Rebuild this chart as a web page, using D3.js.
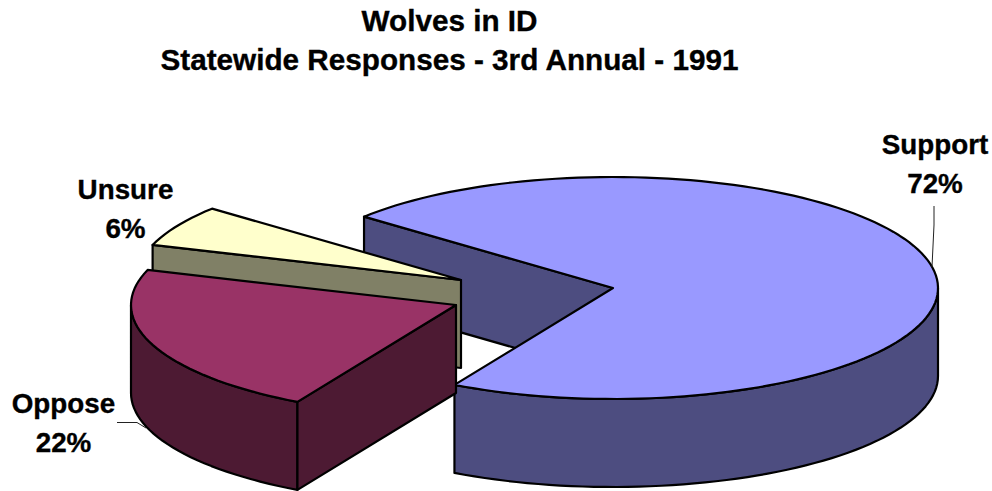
<!DOCTYPE html>
<html lang="en">

<head>
  <meta charset="utf-8">
  <title>Wolves in ID</title>
  <script type="text/javascript" src="https://cdn.jsdelivr.net/npm/d3@7"></script>
  <style type="text/css">
    body {
      margin: 0;
      background: white;
    }

    svg {
      display: block;
    }

    text {
      font-family: "Liberation Sans", Arial, sans-serif;
      font-weight: bold;
      fill: black;
      stroke: black;
      stroke-width: 0.35px;
      text-anchor: middle;
    }

    .face {
      stroke: black;
      stroke-width: 2.2px;
      stroke-linejoin: round;
    }

    .leader {
      fill: none;
      stroke: #222;
      stroke-width: 1px;
    }
  </style>
</head>

<body>
  <script type="text/javascript">
    const titleLines = ["Wolves in ID", "Statewide Responses - 3rd Annual - 1991"];
    const categories = ["Support", "Oppose", "Unsure"];
    const values = [72, 22, 6];

    const w = 992;
    const h = 491;
    const rad = Math.PI / 180;

    // Pie look: ellipse radii, thickness, and where each pulled-out slice ends up
    const rx = 325;
    const ry = 111;
    const depth = 88;
    const centers = { Support: [613, 288], Oppose: [456, 305], Unsure: [461, 280] };
    const topColor = { Support: "#9999ff", Oppose: "#993366", Unsure: "#ffffcc" };
    const sideColor = { Support: "#4d4d80", Oppose: "#4d1a33", Unsure: "#808066" };
    const labelPos = {
      Support: [935, 154],
      Oppose: [63.5, 413],
      Unsure: [125.5, 199]
    };

    const xScale = d3.scaleLinear().domain([-1, 1]).range([-rx, rx]);
    const yScale = d3.scaleLinear().domain([-1, 1]).range([-ry, ry]);

    const pie = d3.pie()
      .sort(null)
      .startAngle(-50 * rad)
      .endAngle(310 * rad);

    const slices = pie(values).map(function (d, i) {
      return { name: categories[i], start: d.startAngle, end: d.endAngle, value: d.value };
    });

    const line = d3.line();

    // point on the rim of a slice, angle clockwise from 12 o'clock
    function rim(name, a, drop) {
      const c = centers[name];
      return [c[0] + xScale(Math.sin(a)), c[1] - yScale(Math.cos(a)) + (drop || 0)];
    }

    function arcPoints(name, a0, a1, drop) {
      const n = Math.max(2, Math.ceil(Math.abs(a1 - a0) / (2 * rad)));
      return d3.range(n + 1).map(function (i) {
        return rim(name, a0 + (a1 - a0) * i / n, drop);
      });
    }

    function topFace(s) {
      return [centers[s.name]].concat(arcPoints(s.name, s.start, s.end));
    }

    // the curved outside wall between two angles
    function outerWall(s, a0, a1) {
      return arcPoints(s.name, a0, a1).concat(arcPoints(s.name, a1, a0, depth));
    }

    // the flat cut wall from the centre out to the rim at angle a
    function cutWall(s, a) {
      const c = centers[s.name];
      const p = rim(s.name, a);
      return [c, p, [p[0], p[1] + depth], [c[0], c[1] + depth]];
    }

    const svg = d3.select("body")
      .append("svg")
      .attr("width", w)
      .attr("height", h);

    function drawFace(points, color) {
      svg.append("path")
        .attr("class", "face")
        .attr("d", line(points) + "Z")
        .attr("fill", color);
    }

    const support = slices[0];
    const oppose = slices[1];
    const unsure = slices[2];

    // Back to front so the nearer faces cover the hidden ones
    drawFace(cutWall(support, support.start), sideColor.Support);
    drawFace(outerWall(support, 90 * rad, support.end), sideColor.Support);
    drawFace(topFace(support), topColor.Support);

    drawFace(cutWall(unsure, unsure.start), sideColor.Unsure);
    drawFace(topFace(unsure), topColor.Unsure);

    drawFace(outerWall(oppose, oppose.start, 270 * rad), sideColor.Oppose);
    drawFace(cutWall(oppose, oppose.start), sideColor.Oppose);
    drawFace(topFace(oppose), topColor.Oppose);

    // Leader lines
    svg.append("path")
      .attr("class", "leader")
      .attr("d", line([[934, 206], [934, 225], [932, 267]]));
    svg.append("path")
      .attr("class", "leader")
      .attr("d", line([[117, 422.5], [137, 422.5], [146, 428]]));

    // Title
    svg.selectAll(".title")
      .data(titleLines)
      .enter()
      .append("text")
      .attr("class", "title")
      .attr("x", 449.5)
      .attr("y", function (d, i) { return 30.5 + i * 39.5; })
      .style("font-size", "29.7px")
      .text(function (d) { return d; });

    // Labels, name over percent
    slices.forEach(function (s) {
      const pos = labelPos[s.name];
      const label = svg.append("text").style("font-size", "27.8px");
      label.append("tspan")
        .attr("x", pos[0])
        .attr("y", pos[1])
        .text(s.name);
      label.append("tspan")
        .attr("x", pos[0])
        .attr("y", pos[1] + 38.5)
        .text(s.value + "%");
    });
  </script>
</body>

</html>
